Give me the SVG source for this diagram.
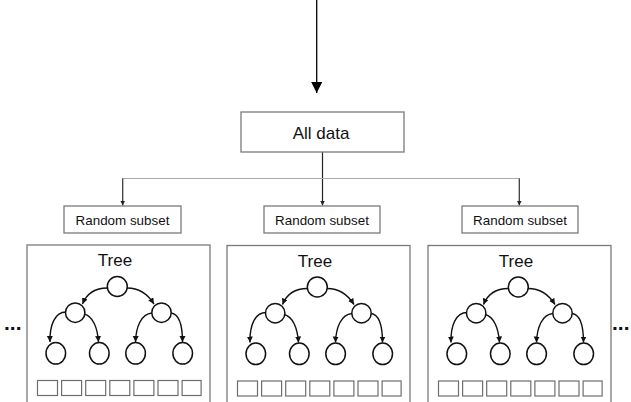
<svg xmlns="http://www.w3.org/2000/svg" xmlns:xlink="http://www.w3.org/1999/xlink" width="631" height="402" viewBox="0 0 631 402">
<style>
.box{fill:#fff;stroke:#7a7a7a;stroke-width:1.3}
.frame{fill:#fff;stroke:#7a7a7a;stroke-width:1.3}
.sq{fill:#fff;stroke:#6e6e6e;stroke-width:1.2}
.nd{fill:#fff;stroke:#111;stroke-width:1.5}
.ed{fill:none;stroke:#111;stroke-width:1.4;marker-end:url(#tip)}
.lbl{font-family:"Liberation Sans",Arial,sans-serif;fill:#111;text-anchor:middle}
.dots{font-family:"Liberation Sans",Arial,sans-serif;font-weight:bold;fill:#111;font-size:21px}
</style>
<defs>
<marker id="big" markerUnits="userSpaceOnUse" markerWidth="12" markerHeight="13" refX="11" refY="5.5" orient="auto"><path d="M0,0 L11,5.5 L0,11 Z" fill="#000"/></marker>
<marker id="small" markerUnits="userSpaceOnUse" markerWidth="6" markerHeight="6" refX="5" refY="2.5" orient="auto"><path d="M0,0 L5,2.5 L0,5 Z" fill="#222"/></marker>
<marker id="tip" markerUnits="userSpaceOnUse" markerWidth="7" markerHeight="7" refX="6" refY="3" orient="auto"><path d="M0,0 L6,3 L0,6 Z" fill="#111"/></marker>
<g id="tree">
<rect class="frame" x="27" y="245" width="183" height="170"/>
<text class="lbl" x="115" y="266" font-size="17">Tree</text>
<g class="tree-edges">
<path class="ed" d="M107.3,288 C96,288 87,293 82.5,304"/>
<path class="ed" d="M127.3,288 C138,288 147,293 154,304"/>
<path class="ed" d="M66,312 C55,312 49.5,325 50,342"/>
<path class="ed" d="M84,314 C93,316 97.5,328 98.5,342"/>
<path class="ed" d="M152,313 C141,314 136,327 135.5,342"/>
<path class="ed" d="M171,313 C179,314 182.5,326 182.5,342"/>
</g>
<circle class="nd" cx="117.3" cy="286.5" r="10"/>
<circle class="nd" cx="75.2" cy="312.7" r="9.7"/>
<circle class="nd" cx="161.5" cy="312.7" r="9.7"/>
<ellipse class="nd" cx="55.8" cy="353.3" rx="9.8" ry="10.8"/>
<ellipse class="nd" cx="99.3" cy="353.3" rx="9.8" ry="10.8"/>
<ellipse class="nd" cx="135.6" cy="353.3" rx="9.8" ry="10.8"/>
<ellipse class="nd" cx="182.7" cy="353.3" rx="9.8" ry="10.8"/>
<rect class="sq" x="37.5" y="380.5" width="20" height="15"/>
<rect class="sq" x="61.6" y="380.5" width="20" height="15"/>
<rect class="sq" x="85.7" y="380.5" width="20" height="15"/>
<rect class="sq" x="109.8" y="380.5" width="20" height="15"/>
<rect class="sq" x="133.9" y="380.5" width="20" height="15"/>
<rect class="sq" x="158" y="380.5" width="20" height="15"/>
<rect class="sq" x="182.1" y="380.5" width="19" height="15"/>
</g>
</defs>
<rect width="631" height="402" fill="#fff"/>
<g id="connectors">
<line x1="316.7" y1="0" x2="316.7" y2="93" stroke="#000" stroke-width="1.3" marker-end="url(#big)"/>
<line x1="322.5" y1="152" x2="322.5" y2="205.5" stroke="#222" stroke-width="1.2" marker-end="url(#small)"/>
<polyline points="122.7,205.5 122.7,178.5 519.3,178.5 519.3,205.5" fill="none" stroke="#aaa" stroke-width="1.1"/>
<line x1="122.7" y1="178.5" x2="122.7" y2="205.5" stroke="#333" stroke-width="1.1" marker-end="url(#small)"/>
<line x1="519.3" y1="178.5" x2="519.3" y2="205.5" stroke="#333" stroke-width="1.1" marker-end="url(#small)"/>
</g>
<g id="all-data">
<rect class="box" x="241" y="112" width="163" height="40"/>
<text class="lbl" x="321" y="138.5" font-size="17">All data</text>
</g>
<g id="subset-1">
<rect class="box" x="64" y="206" width="117" height="27"/>
<text class="lbl" x="122.5" y="224.5" font-size="13.4">Random subset</text>
</g>
<g id="subset-2">
<rect class="box" x="264" y="206" width="116" height="27"/>
<text class="lbl" x="322" y="224.5" font-size="13.4">Random subset</text>
</g>
<g id="subset-3">
<rect class="box" x="462" y="206" width="116" height="27"/>
<text class="lbl" x="520" y="224.5" font-size="13.4">Random subset</text>
</g>
<g id="tree-1"><use xlink:href="#tree" href="#tree"/></g>
<g id="tree-2"><use xlink:href="#tree" href="#tree" transform="translate(200,0.5)"/></g>
<g id="tree-3"><use xlink:href="#tree" href="#tree" transform="translate(401,0.5)"/></g>
<g id="ellipsis-left"><text class="dots" x="4" y="330">...</text></g>
<g id="ellipsis-right"><text class="dots" x="612" y="330">...</text></g>
</svg>
